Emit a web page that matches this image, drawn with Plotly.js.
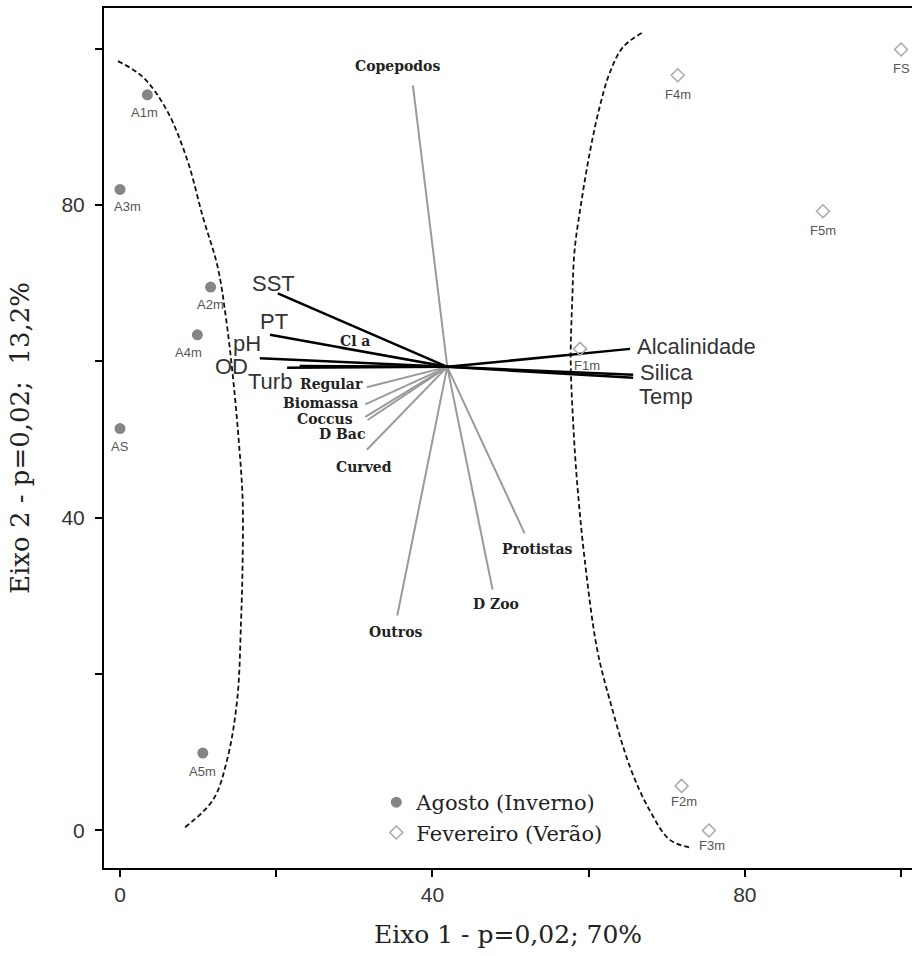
<!DOCTYPE html>
<html>
<head>
<meta charset="utf-8">
<script src="https://cdn.plot.ly/plotly-3.0.1.min.js"></script>
<style>html,body{margin:0;padding:0;background:#fff;}#chart{width:912px;height:956px;}</style>
</head>
<body>
<div id="chart"></div>
<script>
// ---- data ----
const agostoLabels = ['A1m', 'A3m', 'A2m', 'A4m', 'AS', 'A5m'];
const agostoX = [3.5, 0.0, 11.6, 9.9, 0.0, 10.6];
const agostoY = [94.1, 82.0, 69.5, 63.4, 51.4, 9.9];

const fevLabels = ['F4m', 'FS', 'F5m', 'F1m', 'F2m', 'F3m'];
const fevX = [71.4, 100.0, 90.0, 58.9, 71.9, 75.4];
const fevY = [96.6, 99.9, 79.2, 61.6, 5.7, 0.0];

const vectorOrigin = [41.9, 59.3];

const envNames = ['SST', 'PT', 'pH', 'OD', 'Turb', 'Alcalinidade', 'Silica', 'Temp'];
const envX = [20.2, 19.2, 17.9, 21.4, 23.0, 65.3, 65.7, 65.7];
const envY = [68.7, 63.4, 60.4, 59.2, 59.4, 61.6, 58.3, 57.9];

const bioNames = ['Copepodos', 'Cl a', 'Regular', 'Biomassa', 'Coccus', 'D Bac', 'Curved', 'Outros', 'D Zoo', 'Protistas'];
const bioX = [37.5, 28.2, 31.6, 31.4, 31.4, 31.7, 31.6, 35.5, 47.7, 51.8];
const bioY = [95.3, 61.7, 56.7, 54.5, 52.9, 52.5, 48.7, 27.5, 30.8, 38.0];

const leftCurveX = [-0.26, 2.9, 6.0, 8.6, 10.6, 12.5, 13.6, 14.5, 15.2, 15.7, 15.7, 15.5, 15.0, 13.7, 11.9, 8.3];
const leftCurveY = [98.4, 96.4, 92.1, 85.8, 78.5, 72.1, 65.3, 57.6, 49.9, 42.3, 34.6, 26.9, 16.7, 9.0, 3.9, 0.4];
const rightCurveX = [66.8, 64.4, 62.7, 61.4, 60.2, 59.1, 58.2, 57.9, 57.7, 58.0, 58.5, 59.5, 61.1, 62.7, 65.3, 67.8, 70.4, 73.0];
const rightCurveY = [102.0, 100.2, 96.9, 92.5, 87.0, 80.6, 74.2, 67.8, 60.2, 52.5, 44.8, 34.6, 23.1, 16.7, 8.1, 2.6, -1.2, -2.2];

const tickVals = [0, 20, 40, 60, 80, 100];
const tickText = ['0', '', '40', '', '80', ''];

// ---- label placement (pixel offsets, styling only) ----
const envLabelPos = {
  'SST': {xa: 'center', dx: -4, dy: 10},
  'PT': {xa: 'center', dx: 4, dy: 13},
  'pH': {xa: 'center', dx: -13, dy: 15},
  'OD': {xa: 'center', dx: -56, dy: 1},
  'Turb': {xa: 'center', dx: -30, dy: -15},
  'Alcalinidade': {xa: 'left', dx: 5, dy: 2},
  'Silica': {xa: 'left', dx: 5, dy: 2},
  'Temp': {xa: 'left', dx: 4, dy: -19}
};
const bioLabelPos = {
  'Copepodos': {xa: 'center', dx: -15, dy: 19},
  'Cl a': {xa: 'center', dx: 15, dy: 7},
  'Regular': {xa: 'right', dx: -2, dy: 3},
  'Biomassa': {xa: 'right', dx: -5, dy: 1},
  'Coccus': {xa: 'right', dx: -10, dy: -2},
  'D Bac': {xa: 'right', dx: -1, dy: -14},
  'Curved': {xa: 'center', dx: -3, dy: -17},
  'Outros': {xa: 'center', dx: -1, dy: -17},
  'D Zoo': {xa: 'center', dx: 3, dy: -14},
  'Protistas': {xa: 'center', dx: 12, dy: -16}
};
const pointLabelShift = {
  'A1m': [-3, -18], 'A3m': [7, -17], 'A2m': [0, -17], 'A4m': [-9, -18], 'AS': [0, -18], 'A5m': [0, -18],
  'F4m': [0, -19], 'FS': [0, -19], 'F5m': [0, -19], 'F1m': [7, -17], 'F2m': [2, -16], 'F3m': [3, -15]
};

const SERIF = 'DejaVu Serif, Liberation Serif, serif';
const SANS = 'Liberation Sans, Arial, sans-serif';

function vectorTrace(names, xs, ys, color, width) {
  const x = [], y = [];
  names.forEach((n, i) => {
    x.push(vectorOrigin[0], xs[i], null);
    y.push(vectorOrigin[1], ys[i], null);
  });
  return {x, y, mode: 'lines', type: 'scatter', line: {color, width}, hoverinfo: 'skip', showlegend: false};
}

const curveLine = {color: '#111', width: 1.8, dash: '5px,3px', shape: 'spline', smoothing: 1};
const traces = [
  {x: leftCurveX, y: leftCurveY, mode: 'lines', type: 'scatter', line: curveLine, showlegend: false, hoverinfo: 'skip'},
  {x: rightCurveX, y: rightCurveY, mode: 'lines', type: 'scatter', line: curveLine, showlegend: false, hoverinfo: 'skip'},
  vectorTrace(bioNames, bioX, bioY, '#9a9a9a', 2),
  vectorTrace(envNames, envX, envY, '#000000', 2.5),
  {
    x: agostoX, y: agostoY, name: 'Agosto (Inverno)',
    mode: 'markers', type: 'scatter',
    marker: {symbol: 'circle', size: 11, color: '#858585'}, cliponaxis: false
  },
  {
    x: fevX, y: fevY, name: 'Fevereiro (Verão)',
    mode: 'markers', type: 'scatter',
    marker: {symbol: 'diamond-open', size: 10, color: '#a8a8a8', line: {width: 1.5, color: '#a8a8a8'}}, cliponaxis: false
  }
];

const annotations = [];
function addPointLabels(labels, xs, ys) {
  labels.forEach((n, i) => {
    const s = pointLabelShift[n];
    annotations.push({x: xs[i], y: ys[i], text: n, showarrow: false, xanchor: 'center', yanchor: 'middle',
      xshift: s[0], yshift: s[1], font: {family: SANS, size: 13, color: '#555'}});
  });
}
addPointLabels(agostoLabels, agostoX, agostoY);
addPointLabels(fevLabels, fevX, fevY);
envNames.forEach((n, i) => {
  const p = envLabelPos[n];
  annotations.push({x: envX[i], y: envY[i], text: n, showarrow: false, xanchor: p.xa, yanchor: 'middle',
    xshift: p.dx, yshift: p.dy, font: {family: SANS, size: 22, color: '#333'}});
});
bioNames.forEach((n, i) => {
  const p = bioLabelPos[n];
  annotations.push({x: bioX[i], y: bioY[i], text: '<b>' + n + '</b>', showarrow: false, xanchor: p.xa, yanchor: 'middle',
    xshift: p.dx, yshift: p.dy, font: {family: SERIF, size: 14, color: '#222'}});
});

const axisCommon = {
  tickvals: tickVals, ticktext: tickText, ticks: 'outside', ticklen: 7, tickwidth: 2, tickcolor: '#000',
  showline: true, linewidth: 2, linecolor: '#000', showgrid: false, zeroline: false,
  tickfont: {family: SANS, size: 21, color: '#333'}, automargin: false
};

const layout = {
  width: 912, height: 956,
  margin: {l: 104, r: 0, t: 8, b: 88},
  paper_bgcolor: '#fff', plot_bgcolor: '#fff',
  showlegend: true,
  legend: {x: 0.337, y: 0.1, xanchor: 'left', yanchor: 'top', bgcolor: 'rgba(0,0,0,0)',
    font: {family: SERIF, size: 21, color: '#222'}, tracegroupgap: 0, itemwidth: 30},
  xaxis: Object.assign({}, axisCommon, {range: [-2.05, 101.4], mirror: true,
    title: {text: 'Eixo 1 - p=0,02; 70%', font: {family: SERIF, size: 25, color: '#222'}, standoff: 20}}),
  yaxis: Object.assign({}, axisCommon, {range: [-4.8, 105.2], mirror: false, ticklabelstandoff: 6,
    title: {text: 'Eixo 2 - p=0,02;&nbsp; 13,2%', font: {family: SERIF, size: 26, color: '#222'}, standoff: 24}}),
  annotations: annotations
};

Plotly.newPlot('chart', traces, layout, {displayModeBar: false, staticPlot: true});
</script>
</body>
</html>
